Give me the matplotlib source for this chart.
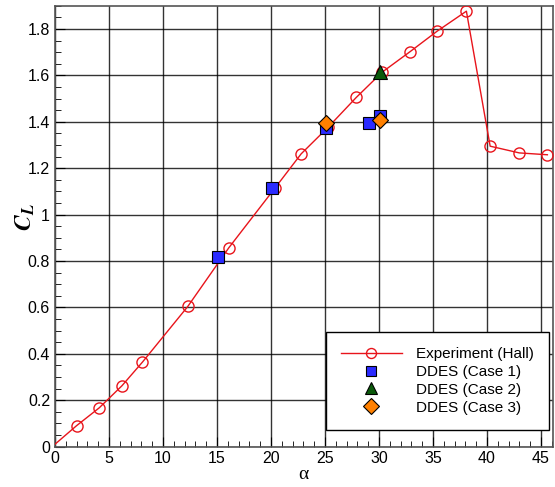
import numpy as np
import matplotlib
matplotlib.use("Agg")
import matplotlib.pyplot as plt
from matplotlib.ticker import MultipleLocator

plt.rcParams['font.family'] = ['Liberation Sans', 'DejaVu Sans']
plt.rcParams['mathtext.fontset'] = 'stix'

# Experiment (Hall)
exp_alpha = [0.0, 2.0, 4.1, 6.2, 8.1, 12.3, 16.1, 20.4, 22.8, 25.3, 27.9, 30.3, 32.9, 35.4, 38.1, 40.3, 43.0, 45.6]
exp_cl = [0.01, 0.09, 0.167, 0.262, 0.364, 0.604, 0.857, 1.116, 1.262, 1.377, 1.505, 1.614, 1.703, 1.791, 1.877, 1.295, 1.266, 1.258]

# DDES cases
case1_alpha = [15.1, 20.1, 25.1, 29.1, 30.1]
case1_cl = [0.818, 1.115, 1.374, 1.396, 1.424]
case2_alpha = [30.1]
case2_cl = [1.615]
case3_alpha = [25.1, 30.1]
case3_cl = [1.396, 1.41]

fig = plt.figure(figsize=(5.55, 4.87), dpi=100)
ax = fig.add_axes([0.099, 0.083, 0.897, 0.905])

ax.plot(exp_alpha, exp_cl, color='#e8141b', lw=1.0, marker='o', ms=8,
        mfc='none', mec='#e8141b', mew=1.0, markevery=slice(1, None),
        label='Experiment (Hall)', zorder=3)
ax.plot(case1_alpha, case1_cl, ls='none', marker='s', ms=8.5, mfc='#2b2bff',
        mec='black', mew=0.8, label='DDES (Case 1)', zorder=4)
ax.plot(case2_alpha, case2_cl, ls='none', marker='^', ms=10, mfc='#0b5a0b',
        mec='black', mew=0.8, label='DDES (Case 2)', zorder=4)
ax.plot(case3_alpha, case3_cl, ls='none', marker='D', ms=8.5, mfc='#ff8000',
        mec='black', mew=0.8, label='DDES (Case 3)', zorder=5)

ax.set_xlim(0, 46.1)
ax.set_ylim(0, 1.9)
ax.xaxis.set_major_locator(MultipleLocator(5))
ax.xaxis.set_minor_locator(MultipleLocator(1))
ax.yaxis.set_minor_locator(MultipleLocator(0.05))
ax.set_yticks(np.arange(0, 1.81, 0.2))
ax.set_yticklabels(['0', '0.2', '0.4', '0.6', '0.8', '1', '1.2', '1.4', '1.6', '1.8'])

ax.grid(True, which='major', color='black', lw=1.0, alpha=0.8)
ax.tick_params(which='both', direction='in', top=False, right=False, labelsize=11.5)
ax.tick_params(which='major', length=7)
ax.tick_params(which='minor', length=4)
for s in ax.spines.values():
    s.set_color('#555555')
    s.set_linewidth(1.2)

ax.set_xlabel('\u03b1', fontsize=14, family='Liberation Serif', labelpad=0)
fig.text(0.045, 0.555, r'$\mathbfit{C}_{\mathbfit{L}}$', rotation=90,
         fontsize=17, ha='center', va='center')

leg = ax.legend(loc='lower right', bbox_to_anchor=(0.992, 0.038), borderaxespad=0,
                fontsize=11, frameon=True, fancybox=False, edgecolor='black',
                framealpha=1, handlelength=4.0, borderpad=1.0, labelspacing=0.25,
                handletextpad=0.9, markerscale=0.9)
leg.get_frame().set_linewidth(1.0)

fig.savefig('out.png', dpi=100)
